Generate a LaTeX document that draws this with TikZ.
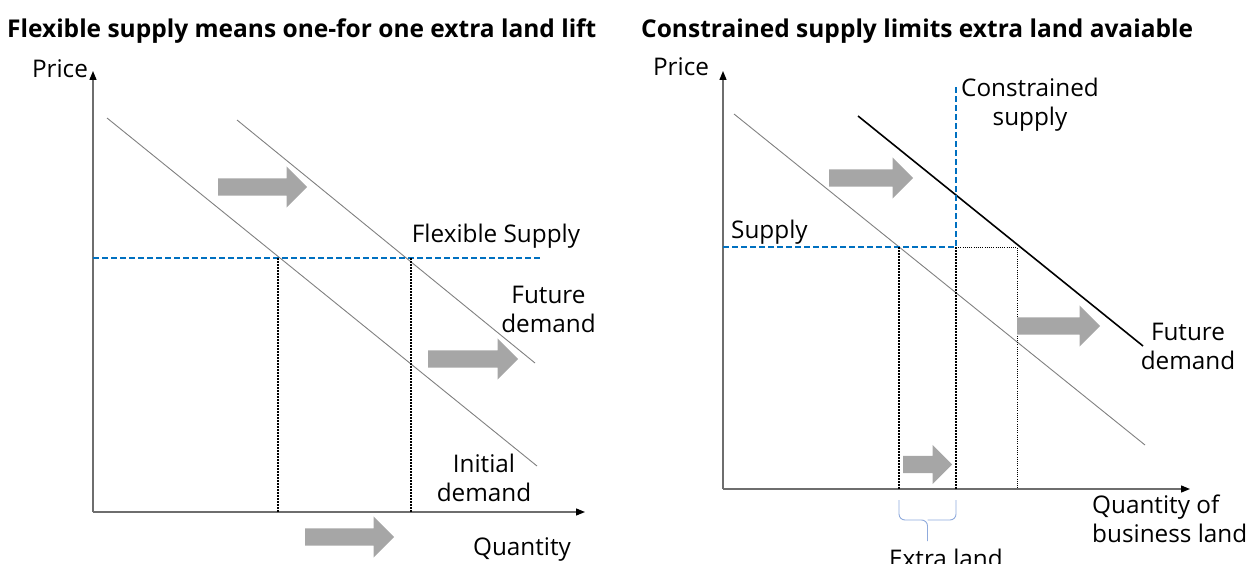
\documentclass[tikz,border=0pt]{standalone}
\usepackage{fontspec}
\setmainfont{Open Sans}
\usetikzlibrary{shapes.arrows,arrows.meta}
\definecolor{supplyblue}{RGB}{0,112,192}
\definecolor{shiftgray}{RGB}{166,166,166}
\definecolor{curvegray}{RGB}{128,128,128}
\definecolor{axisgray}{RGB}{110,110,110}
\definecolor{braceblue}{RGB}{143,170,220}
\begin{document}
\begin{tikzpicture}[x=1pt,y=-1pt,
  every node/.style={inner sep=0pt, text=black},
  lbl/.style={font=\fontsize{24.3}{29}\selectfont, align=center, anchor=base},
  lbll/.style={font=\fontsize{24.3}{29}\selectfont, align=left, anchor=base west},
  paneltitle/.style={font=\fontsize{24.5}{28}\selectfont\bfseries, anchor=base west},
  axisline/.style={draw=axisgray, line width=1.3pt, -{Triangle[length=9pt,width=7pt,color=black]}},
  demand/.style={draw=curvegray, line width=0.9pt},
  futuredemand/.style={draw=black, line width=1.6pt},
  supplyline/.style={draw=supplyblue, line width=2pt, dash pattern=on 6pt off 3pt},
  guide/.style={draw=black, line width=1.8pt, dash pattern=on 1.5pt off 1.5pt},
  thinguide/.style={draw=black, line width=0.9pt, dash pattern=on 1pt off 1.2pt},
  shiftarrow/.style={single arrow, fill=shiftgray, draw=none, inner xsep=0pt, inner ysep=8.5pt,
    single arrow head extend=12pt, minimum height=#1, anchor=tail},
  bracestyle/.style={draw=braceblue, line width=0.9pt, rounded corners=6pt}
]
\useasboundingbox (0,0) rectangle (1252,564);

% ---------- left panel: flexible supply ----------
\node[paneltitle] (titleL) at (7,38) {Flexible supply means one-for one extra land lift};

\coordinate (oL) at (93,512);
\coordinate (yL) at (93,71);
\coordinate (xL) at (585,512);
\draw[axisline] (oL) -- (yL);
\draw[axisline] (oL) -- (xL);
\node[lbl] (priceL) at (60,78) {Price};
\node[lbl] (qtyL) at (522,555) {Quantity};

\coordinate (initL1) at (107,118);
\coordinate (initL2) at (537,466);
\coordinate (futL1) at (237,120);
\coordinate (futL2) at (535,363);
\draw[demand] (initL1) -- (initL2);
\draw[demand] (futL1) -- (futL2);

\coordinate (supL1) at (93,258);
\coordinate (supL2) at (540,258);
\draw[supplyline] (supL1) -- (supL2);
\node[lbl] (flexlbl) at (496,242) {Flexible Supply};

\coordinate (eqL1) at (278,258);
\coordinate (eqL1b) at (278,512);
\coordinate (eqL2) at (411,258);
\coordinate (eqL2b) at (411,512);
\draw[guide] (eqL1) -- (eqL1b);
\draw[guide] (eqL2) -- (eqL2b);

\node[lbl] (futlblL) at (548.5,332) {Future\\demand};
\node[lbl] (initlblL) at (484,501) {Initial\\demand};

\node[shiftarrow=89pt] (shL1) at (218,187) {};
\node[shiftarrow=90pt] (shL2) at (428,359) {};
\node[shiftarrow=89pt] (shL3) at (305,537) {};

% ---------- right panel: constrained supply ----------
\node[paneltitle] (titleR) at (641,38) {Constrained supply limits extra land avaiable};

\coordinate (oR) at (723,489);
\coordinate (yR) at (723,71);
\coordinate (xR) at (1190,489);
\draw[axisline] (oR) -- (yR);
\draw[axisline] (oR) -- (xR);
\node[lbl] (priceR) at (681,76) {Price};
\node[lbll] (qtyR) at (1092,542) {Quantity of\\business land};

\coordinate (initR1) at (734,114);
\coordinate (initR2) at (1145,445);
\coordinate (futR1) at (858,116);
\coordinate (futR2) at (1143,346);
\draw[demand] (initR1) -- (initR2);
\draw[futuredemand] (futR1) -- (futR2);

\coordinate (supR1) at (723,247);
\coordinate (supR2) at (956,247);
\coordinate (supR3) at (956,85);
\draw[supplyline] (supR1) -- (supR2) -- (supR3);
\node[lbll] (suplbl) at (731,238) {Supply};
\node[lbl] (conslbl) at (1030,126) {Constrained\\supply};

\coordinate (eqR1) at (899,247);
\coordinate (eqR1b) at (899,489);
\coordinate (eqR2b) at (956,489);
\coordinate (eqR3) at (1017,247);
\coordinate (eqR3b) at (1017,489);
\draw[guide] (eqR1) -- (eqR1b);
\draw[guide] (supR2) -- (eqR2b);
\draw[thinguide] (supR2) -- (eqR3) -- (eqR3b);

\node[lbl] (futlblR) at (1188,369) {Future\\demand};

\node[shiftarrow=84pt] (shR1) at (829,178) {};
\node[shiftarrow=83pt] (shR2) at (1017,326) {};
\node[shiftarrow=49pt, single arrow head extend=11pt] (shR3) at (903,464.5) {};

% brace marking the extra land
\coordinate (brL) at (899,500);
\coordinate (brR) at (956,500);
\coordinate (brM) at (927.5,520);
\coordinate (brTip) at (927.5,541);
\draw[bracestyle] (brL) |- (brM) -- (brTip);
\draw[bracestyle] (brR) |- (brM);
\node[lbl] (extralbl) at (946,567) {Extra land};
\end{tikzpicture}
\end{document}
